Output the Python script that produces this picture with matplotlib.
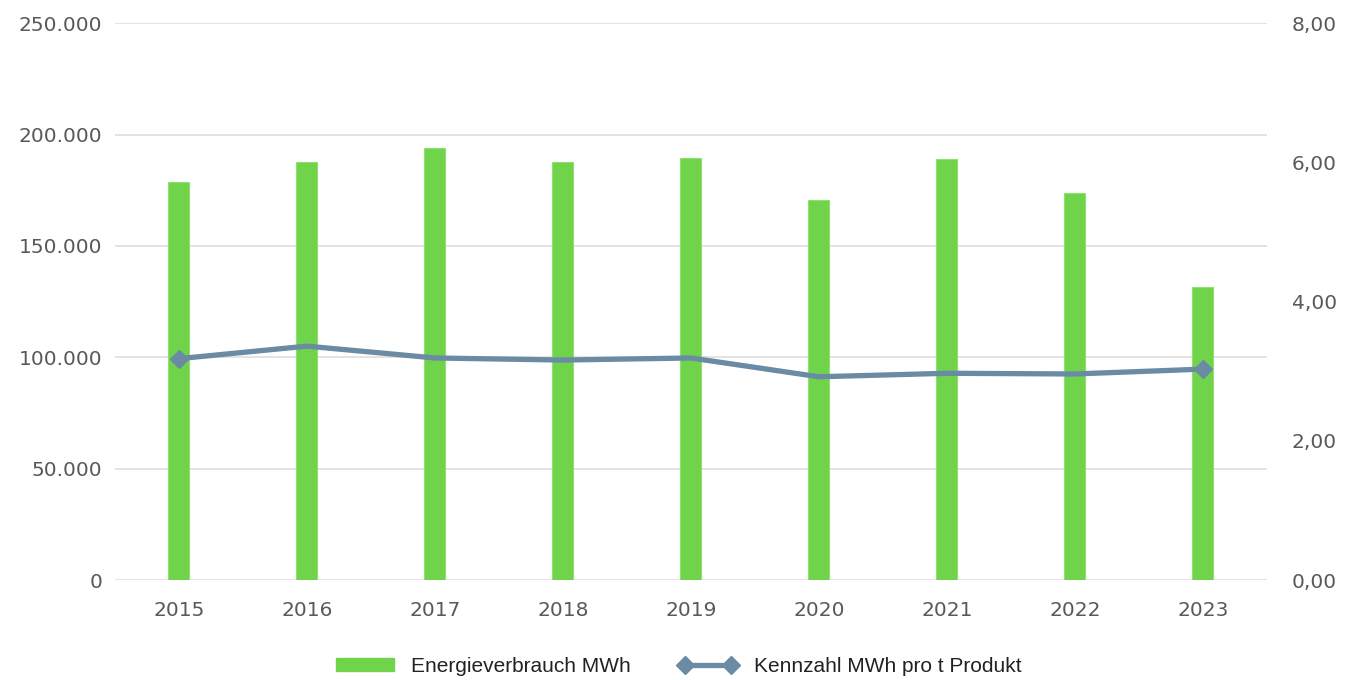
import matplotlib
matplotlib.use("Agg")
import matplotlib.pyplot as plt
from matplotlib.ticker import FuncFormatter
from matplotlib.lines import Line2D
from matplotlib.patches import Patch

# data
years = ["2015", "2016", "2017", "2018", "2019", "2020", "2021", "2022", "2023"]
energie_mwh = [178600, 187600, 193900, 187600, 189400, 170600, 189000, 173700, 131500]
kennzahl = [3.18, 3.36, 3.19, 3.16, 3.19, 2.92, 2.97, 2.96, 3.03]

bar_color = "#70d44b"
line_color = "#6a8ba3"
text_color = "#595959"
grid_color = "#dedede"

plt.rcParams["font.family"] = ["DejaVu Sans"]

fig = plt.figure(figsize=(13.52, 6.8), dpi=100)
ax = fig.add_axes([0.085, 0.147, 0.852, 0.819])
ax2 = ax.twinx()

x = list(range(len(years)))
ax.bar(x, energie_mwh, width=0.165, color=bar_color, edgecolor="#8fe070", linewidth=0.8, zorder=2)
ax.set_ylim(0, 250000)
ax.set_yticks(range(0, 250001, 50000))
ax.yaxis.set_major_formatter(FuncFormatter(lambda v, p: "{:,.0f}".format(v).replace(",", ".")))
ax.set_xlim(-0.5, len(years) - 0.5)
ax.set_xticks(x)
ax.set_xticklabels(years)
ax.grid(axis="y", color=grid_color, linewidth=1.2, zorder=0)
ax.set_axisbelow(True)

ax2.plot(x, kennzahl, color=line_color, linewidth=3.8, marker="D", markersize=9,
         markevery=[0, len(x) - 1], zorder=3)
ax2.set_ylim(0, 8)
ax2.set_yticks([0, 2, 4, 6, 8])
ax2.yaxis.set_major_formatter(FuncFormatter(lambda v, p: "{:.2f}".format(v).replace(".", ",")))

for a in (ax, ax2):
    for s in a.spines.values():
        s.set_visible(False)
    a.tick_params(length=0, labelsize=14.5, colors=text_color)
ax.tick_params(axis="y", pad=9)
ax.tick_params(axis="x", pad=15)
ax2.tick_params(axis="y", pad=18)

handles = [Patch(facecolor=bar_color, edgecolor=bar_color),
           Line2D([0], [0], color=line_color, linewidth=3.8, marker="D", markersize=9)]
labels = ["Energieverbrauch MWh", "Kennzahl MWh pro t Produkt"]
fig.legend(handles, labels, loc="center", bbox_to_anchor=(0.502, 0.02), ncol=2, frameon=False,
           prop={"family": ["Liberation Sans", "DejaVu Sans"], "size": 15},
           handlelength=2.8, handleheight=0.55, handletextpad=0.8, columnspacing=2.3,
           numpoints=2, labelcolor="#222222")

fig.savefig("out.png", dpi=100)
